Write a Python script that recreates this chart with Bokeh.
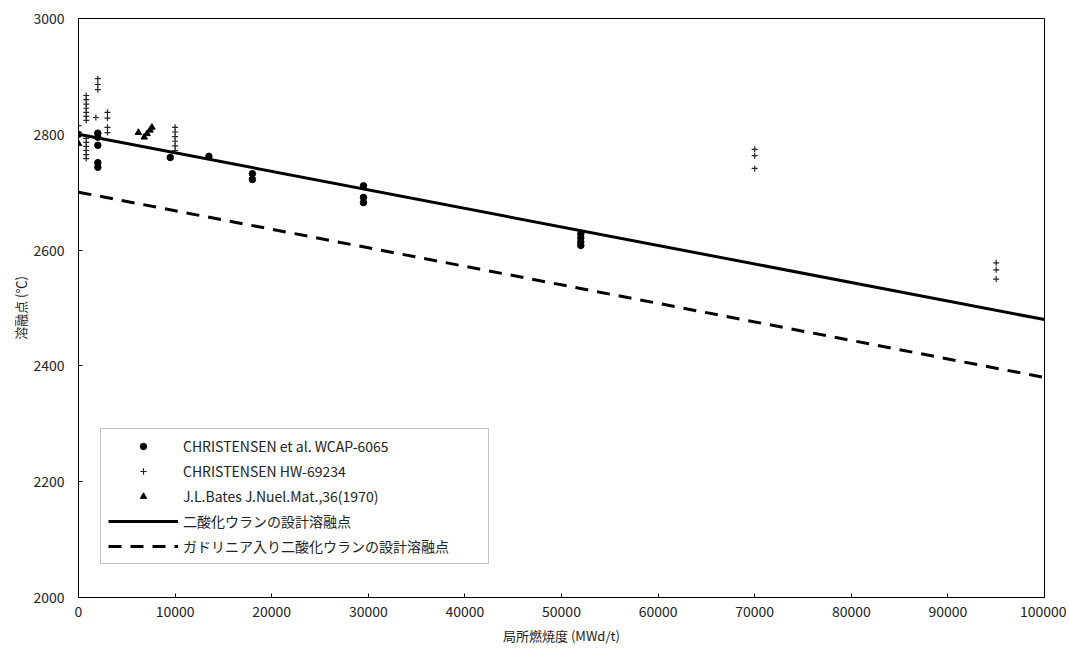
from bokeh.plotting import figure
from bokeh.models import Legend, LegendItem, FixedTicker, BasicTickFormatter
from bokeh.embed import file_html
from bokeh.resources import INLINE

# CHRISTENSEN et al. WCAP-6065 (circles)
wcap_x = [0, 2000, 2000, 2000, 2000, 2000, 9500, 13500, 18000, 18000,
          29500, 29500, 29500, 52000, 52000, 52000, 52000]
wcap_y = [2800, 2802, 2795, 2781, 2751, 2743, 2760, 2762, 2732, 2722,
          2711, 2691, 2682, 2628, 2621, 2614, 2608]

# CHRISTENSEN HW-69234 (plus)
hw_x = [0, 800, 800, 800, 800, 800, 800, 800, 800, 800, 800, 800, 800, 800,
        1800, 2000, 2000, 2000, 3000, 3000, 3000, 3000,
        10000, 10000, 10000, 10000, 10000, 10000,
        70000, 70000, 70000, 95000, 95000, 95000]
hw_y = [2815, 2867, 2860, 2852, 2845, 2838, 2831, 2824, 2793, 2786, 2779, 2772, 2765, 2758,
        2829, 2896, 2886, 2877, 2838, 2828, 2812, 2803,
        2812, 2804, 2796, 2788, 2780, 2772,
        2774, 2763, 2741, 2578, 2566, 2550]

# J.L.Bates J.Nuel.Mat.,36(1970) (triangles)
bates_x = [0, 6200, 6800, 7100, 7400, 7600]
bates_y = [2784, 2803, 2795, 2801, 2807, 2812]

# design melting point lines
line_x = [0, 100000]
uo2_y = [2800, 2480]
gd_y = [2700, 2380]

x_ticks = [0, 10000, 20000, 30000, 40000, 50000, 60000, 70000, 80000, 90000, 100000]
y_ticks = [2000, 2200, 2400, 2600, 2800, 3000]

JP = "Noto Sans CJK JP"

p = figure(frame_width=966, frame_height=579, output_backend="svg", toolbar_location=None,
           x_range=(0, 100000), y_range=(2000, 3000),
           min_border_left=78, min_border_right=22, min_border_top=18, min_border_bottom=5,
           background_fill_color="white", border_fill_color="white")

p.outline_line_color = "black"
p.outline_line_width = 1
p.grid.visible = False

for ax in (p.xaxis[0], p.yaxis[0]):
    ax.major_tick_in = 4
    ax.major_tick_out = 0
    ax.minor_tick_line_color = None
    ax.axis_line_color = "black"
    ax.major_tick_line_color = "black"
    ax.major_label_text_font = JP
    ax.major_label_text_font_size = "14px"
    ax.major_label_text_color = "#222222"
    ax.axis_label_text_font = JP
    ax.axis_label_text_font_size = "13px"
    ax.axis_label_text_font_style = "normal"
    ax.axis_label_text_color = "#222222"

p.xaxis.ticker = FixedTicker(ticks=x_ticks)
p.yaxis.ticker = FixedTicker(ticks=y_ticks)
p.xaxis.formatter = BasicTickFormatter(use_scientific=False)
p.yaxis.formatter = BasicTickFormatter(use_scientific=False)
p.xaxis.major_label_standoff = 8
p.yaxis.major_label_standoff = 14
p.xaxis.axis_label = "局所燃焼度 (MWd/t)"
p.yaxis.axis_label = "溶融点 (℃)"
p.xaxis.axis_label_standoff = 6
p.yaxis.axis_label_standoff = 0

r_uo2 = p.line(line_x, uo2_y, line_color="black", line_width=3)
r_gd = p.line(line_x, gd_y, line_color="black", line_width=3, line_dash="13 9")

r_w = p.scatter(wcap_x, wcap_y, marker="circle", size=6.5, fill_color="black", line_color="black")
r_h = p.scatter(hw_x, hw_y, marker="cross", size=6, line_color="#222222", line_width=1.2)
r_b = p.scatter(bates_x, bates_y, marker="triangle", size=6.5, fill_color="black", line_color="black")

legend = Legend(items=[
    LegendItem(label="CHRISTENSEN et al. WCAP-6065", renderers=[r_w]),
    LegendItem(label="CHRISTENSEN HW-69234", renderers=[r_h]),
    LegendItem(label="J.L.Bates J.Nuel.Mat.,36(1970)", renderers=[r_b]),
    LegendItem(label="二酸化ウランの設計溶融点", renderers=[r_uo2]),
    LegendItem(label="ガドリニア入り二酸化ウランの設計溶融点", renderers=[r_gd]),
], location=(22, 33))
legend.label_text_font = JP
legend.label_text_font_size = "14px"
legend.label_text_color = "#222222"
legend.glyph_width = 70
legend.glyph_height = 16
legend.label_height = 16
legend.spacing = 5
legend.padding = 7
legend.margin = 0
legend.label_standoff = 5
legend.label_width = 298
legend.border_line_color = "#888888"
legend.border_line_width = 1
legend.background_fill_color = "white"
legend.background_fill_alpha = 1
p.add_layout(legend, "center")

open("out.html", "w").write(file_html(p, INLINE))
